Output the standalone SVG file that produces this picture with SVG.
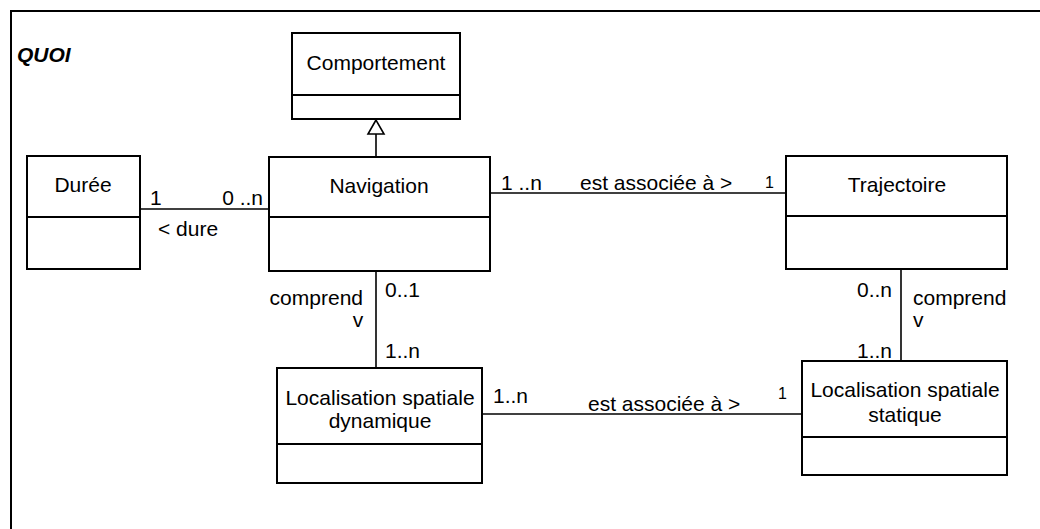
<svg xmlns="http://www.w3.org/2000/svg" width="1040" height="529" viewBox="0 0 1040 529">
<style>
.box{fill:#fff;stroke:#000;stroke-width:2}
.div{stroke:#000;stroke-width:2}
.con{stroke:#000;stroke-width:1.6;fill:none}
text{font-family:"Liberation Sans",Arial,sans-serif;font-size:21px;fill:#000}
.c{text-anchor:middle}
.e{text-anchor:end}
.s{font-size:16px}
</style>
<rect width="1040" height="529" fill="#fff"/>
<path d="M11,529 V11 H1040" fill="none" stroke="#000" stroke-width="2"/>
<text x="17" y="62" font-weight="bold" font-style="italic">QUOI</text>
<g id="connectors">
<line class="con" x1="140" y1="209" x2="269" y2="209"/>
<line class="con" x1="490" y1="193" x2="786" y2="193"/>
<line class="con" x1="376" y1="271" x2="376" y2="368"/>
<line class="con" x1="901" y1="269" x2="901" y2="361"/>
<line class="con" x1="482" y1="414" x2="802" y2="414"/>
<line class="con" x1="376" y1="134" x2="376" y2="157"/>
<polygon points="376,120 368,134 384,134" fill="#fff" stroke="#000" stroke-width="1.6"/>
<text x="150" y="205">1</text>
<text x="263" y="205" class="e">0 ..n</text>
<text x="158" y="236">&lt; dure</text>
<text x="501" y="190">1 ..n</text>
<text x="580" y="190">est associée à &gt;</text>
<text x="765" y="188" class="s">1</text>
<text x="363" y="305" class="e">comprend</text>
<text x="358" y="327" class="c">v</text>
<text x="385" y="297">0..1</text>
<text x="385" y="358">1..n</text>
<text x="493" y="403">1..n</text>
<text x="588" y="411">est associée à &gt;</text>
<text x="778" y="399" class="s">1</text>
<text x="892" y="297" class="e">0..n</text>
<text x="913" y="305">comprend</text>
<text x="913" y="327">v</text>
<text x="892" y="358" class="e">1..n</text>
</g>
<g id="comportement">
<rect class="box" x="292" y="33" width="168" height="86"/>
<line class="div" x1="292" y1="95" x2="460" y2="95"/>
<text x="376" y="70" class="c">Comportement</text>
</g>
<g id="duree">
<rect class="box" x="27" y="156" width="113" height="113"/>
<line class="div" x1="27" y1="217" x2="140" y2="217"/>
<text x="83" y="192" class="c">Durée</text>
</g>
<g id="navigation">
<rect class="box" x="269" y="157" width="221" height="114"/>
<line class="div" x1="269" y1="217" x2="490" y2="217"/>
<text x="379" y="193" class="c">Navigation</text>
</g>
<g id="trajectoire">
<rect class="box" x="786" y="156" width="221" height="113"/>
<line class="div" x1="786" y1="216" x2="1007" y2="216"/>
<text x="897" y="192" class="c">Trajectoire</text>
</g>
<g id="loc-dynamique">
<rect class="box" x="277" y="368" width="205" height="115"/>
<line class="div" x1="277" y1="444" x2="482" y2="444"/>
<text x="380" y="405" class="c">Localisation spatiale</text>
<text x="380" y="428" class="c">dynamique</text>
</g>
<g id="loc-statique">
<rect class="box" x="802" y="361" width="205" height="114"/>
<line class="div" x1="802" y1="437" x2="1007" y2="437"/>
<text x="905" y="397" class="c">Localisation spatiale</text>
<text x="905" y="422" class="c">statique</text>
</g>
</svg>
